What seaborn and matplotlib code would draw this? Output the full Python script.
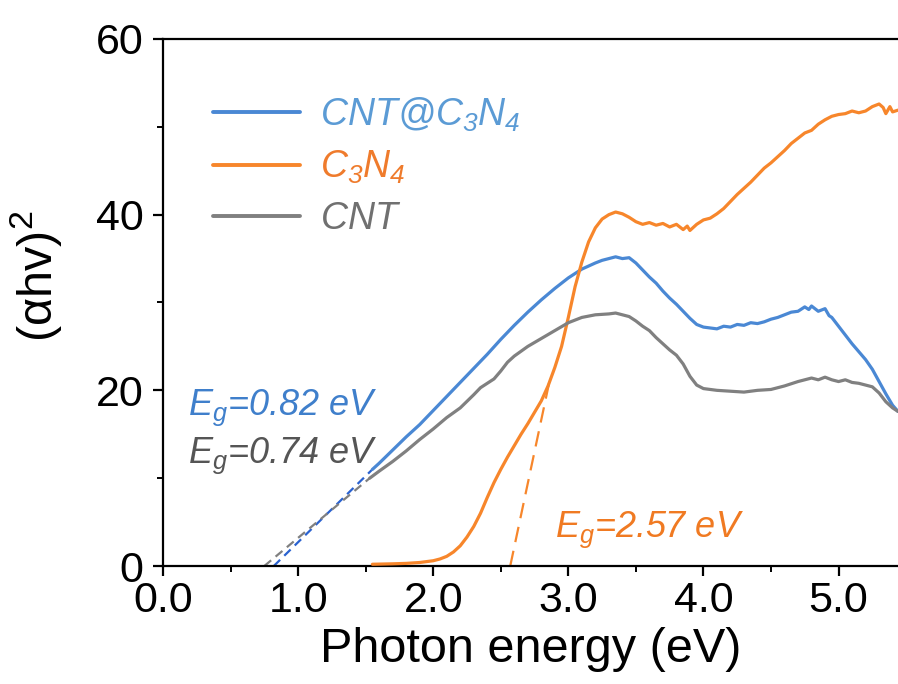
import numpy as np
import pandas as pd
import matplotlib
matplotlib.use("Agg")
import matplotlib.pyplot as plt
import seaborn as sns
from matplotlib.ticker import MultipleLocator

# ---------------- data ----------------
cnt_c3n4_x = [1.55, 1.6, 1.7, 1.8, 1.9, 2.0, 2.1, 2.2, 2.3, 2.4, 2.5, 2.6, 2.7, 2.8, 2.9,
              3.0, 3.1, 3.2, 3.25, 3.3, 3.35, 3.4, 3.45, 3.5, 3.55, 3.6, 3.65, 3.7, 3.75,
              3.8, 3.85, 3.9, 3.95, 4.0, 4.05, 4.1, 4.15, 4.2, 4.25, 4.3, 4.35, 4.4, 4.45,
              4.5, 4.55, 4.6, 4.65, 4.7, 4.75, 4.78, 4.8, 4.85, 4.9, 4.93, 4.95, 5.0, 5.05,
              5.1, 5.15, 5.2, 5.25, 5.3, 5.35, 5.4, 5.44]
cnt_c3n4_y = [11.0, 11.7, 13.2, 14.7, 16.1, 17.7, 19.3, 20.9, 22.5, 24.1, 25.8, 27.4, 28.9, 30.3, 31.6,
              32.8, 33.8, 34.5, 34.8, 35.0, 35.2, 35.0, 35.1, 34.5, 33.7, 32.9, 32.2, 31.3, 30.5,
              29.8, 29.0, 28.2, 27.5, 27.2, 27.1, 27.0, 27.3, 27.2, 27.5, 27.4, 27.7, 27.6, 27.8,
              28.1, 28.3, 28.6, 28.9, 29.0, 29.5, 29.2, 29.6, 29.0, 29.3, 28.5, 28.3, 27.3, 26.3,
              25.3, 24.4, 23.5, 22.4, 21.0, 19.6, 18.3, 17.6]

c3n4_x = [1.55, 1.7, 1.8, 1.9, 2.0, 2.05, 2.1, 2.15, 2.2, 2.25, 2.3, 2.35, 2.4, 2.45, 2.5,
          2.55, 2.6, 2.65, 2.7, 2.75, 2.8, 2.85, 2.9, 2.95, 3.0, 3.05, 3.1, 3.15, 3.2, 3.25,
          3.3, 3.35, 3.4, 3.45, 3.5, 3.55, 3.6, 3.65, 3.7, 3.75, 3.8, 3.85, 3.88, 3.9, 3.95,
          4.0, 4.05, 4.1, 4.15, 4.2, 4.25, 4.3, 4.35, 4.4, 4.45, 4.5, 4.55, 4.6, 4.65, 4.7,
          4.75, 4.8, 4.85, 4.9, 4.95, 5.0, 5.05, 5.1, 5.15, 5.2, 5.25, 5.3, 5.33, 5.35, 5.38,
          5.4, 5.44]
c3n4_y = [0.2, 0.25, 0.3, 0.4, 0.6, 0.8, 1.1, 1.6, 2.3, 3.3, 4.5, 6.0, 7.8, 9.5, 11.0,
          12.4, 13.7, 15.0, 16.2, 17.5, 18.8, 20.5, 22.6, 25.0, 28.3, 31.8, 34.6, 36.9, 38.5, 39.5,
          40.0, 40.3, 40.1, 39.7, 39.2, 38.9, 39.1, 38.8, 39.0, 38.6, 38.9, 38.3, 38.7, 38.2, 38.9,
          39.4, 39.6, 40.1, 40.7, 41.5, 42.3, 43.0, 43.7, 44.5, 45.3, 45.9, 46.6, 47.3, 48.1, 48.7,
          49.3, 49.6, 50.3, 50.8, 51.2, 51.4, 51.5, 51.8, 51.6, 51.8, 52.3, 52.6, 52.2, 51.5, 52.3,
          51.7, 51.9]

cnt_x = [1.53, 1.6, 1.7, 1.8, 1.9, 2.0, 2.1, 2.2, 2.3, 2.35, 2.4, 2.45, 2.5, 2.55, 2.6,
         2.7, 2.8, 2.9, 3.0, 3.1, 3.2, 3.3, 3.35, 3.4, 3.45, 3.5, 3.55, 3.6, 3.65, 3.7,
         3.75, 3.8, 3.85, 3.9, 3.95, 4.0, 4.05, 4.1, 4.2, 4.3, 4.4, 4.5, 4.6, 4.7, 4.75,
         4.8, 4.85, 4.9, 4.95, 5.0, 5.05, 5.1, 5.15, 5.2, 5.25, 5.3, 5.35, 5.4, 5.44]
cnt_y = [10.0, 10.8, 11.9, 13.1, 14.4, 15.6, 16.9, 18.0, 19.5, 20.3, 20.8, 21.3, 22.2, 23.2, 23.9,
         25.0, 25.9, 26.8, 27.7, 28.3, 28.6, 28.7, 28.8, 28.6, 28.4, 27.9, 27.3, 26.8, 26.0, 25.3,
         24.6, 24.0, 23.0, 21.6, 20.6, 20.2, 20.1, 20.0, 19.9, 19.8, 20.0, 20.1, 20.5, 21.0, 21.2,
         21.4, 21.2, 21.5, 21.2, 21.0, 21.2, 20.9, 20.8, 20.6, 20.4, 19.7, 18.7, 18.0, 17.6]

# linear Tauc fits (x-intercept = band gap)
fit_cnt_c3n4_x = [0.82, 1.55]
fit_cnt_c3n4_y = [0.0, 11.0]
fit_c3n4_x = [2.57, 2.86]
fit_c3n4_y = [0.0, 21.0]
fit_cnt_x = [0.75, 1.53]
fit_cnt_y = [0.0, 10.0]

series_names = ["CNT@C3N4", "C3N4", "CNT"]
legend_labels = [r"$CNT@C_3N_4$", r"$C_3N_4$", r"$CNT$"]
x_ticks = [0, 1, 2, 3, 4, 5]
x_tick_labels = ["0.0", "1.0", "2.0", "3.0", "4.0", "5.0"]
y_ticks = [0, 20, 40, 60]
y_tick_labels = ["0", "20", "40", "60"]
eg_texts = [r"$E_g$=0.82 eV", r"$E_g$=0.74 eV", r"$E_g$=2.57 eV"]

# ---------------- style ----------------
sns.set_theme(style="ticks")
plt.rcParams["font.family"] = ["Liberation Sans", "DejaVu Sans"]
plt.rcParams["mathtext.fontset"] = "custom"
plt.rcParams["mathtext.rm"] = "Liberation Sans:italic"
plt.rcParams["mathtext.it"] = "Liberation Sans:italic"
plt.rcParams["mathtext.bf"] = "Liberation Sans:bold"
plt.rcParams["mathtext.sf"] = "Liberation Sans"

line_colors = ["#4a88d4", "#f7862b", "#808080"]
text_colors = ["#5b9bd5", "#ef7b2c", "#707070"]
fit_colors = ["#2a62d0", "#f7862b", "#808080"]
eg_colors = ["#3f7fcb", "#f07a22", "#555555"]

fig = plt.figure(figsize=(8.98, 6.84), dpi=100)
ax = fig.add_axes([0.1815, 0.1725, 0.8185, 0.7705])

df = pd.concat([
    pd.DataFrame({"energy": cnt_c3n4_x, "value": cnt_c3n4_y, "sample": series_names[0]}),
    pd.DataFrame({"energy": c3n4_x, "value": c3n4_y, "sample": series_names[1]}),
    pd.DataFrame({"energy": cnt_x, "value": cnt_y, "sample": series_names[2]}),
])

# dashed fits first (under the curves)
fits = [(fit_cnt_c3n4_x, fit_cnt_c3n4_y), (fit_c3n4_x, fit_c3n4_y), (fit_cnt_x, fit_cnt_y)]
fit_dash = [(4, 2.6), (7, 4), (4, 2.6)]
for (fx, fy), c, d in zip(fits, fit_colors, fit_dash):
    ax.plot(fx, fy, color=c, lw=1.6, dashes=d, zorder=2)

for name, lab, c in zip(series_names, legend_labels, line_colors):
    sub = df[df["sample"] == name]
    sns.lineplot(data=sub, x="energy", y="value", ax=ax, color=c, linewidth=2.3,
                 estimator=None, sort=False, label=lab, zorder=3)

ax.set_xlim(0, 5.44)
ax.set_ylim(0, 60)
ax.set_xticks(x_ticks)
ax.set_xticklabels(x_tick_labels)
ax.set_yticks(y_ticks)
ax.set_yticklabels(y_tick_labels)
ax.xaxis.set_minor_locator(MultipleLocator(0.5))
ax.yaxis.set_minor_locator(MultipleLocator(10))

for s in ["left", "bottom", "top"]:
    ax.spines[s].set_linewidth(1.6)
    ax.spines[s].set_color("black")
ax.spines["right"].set_visible(False)

ax.tick_params(axis="both", which="major", direction="out", length=7, width=1.6,
               colors="black", labelsize=31)
ax.tick_params(axis="both", which="minor", direction="out", length=4, width=1.4, colors="black")
ax.tick_params(axis="x", which="major", pad=4)
ax.tick_params(axis="y", which="major", pad=7)
ax.tick_params(top=False, right=False, which="both")

ax.set_xlabel("Photon energy (eV)", fontsize=35, labelpad=4, color="black")
ax.set_ylabel(r"(αhv)$^\mathsf{2}$", fontsize=35, color="black")
ax.yaxis.set_label_coords(-0.135, 0.55)

leg = ax.legend(loc="upper left", bbox_to_anchor=(0.068, 0.893), frameon=False,
                fontsize=27, handlelength=2.32, handletextpad=0.53, labelspacing=0.4,
                borderpad=0, borderaxespad=0, labelcolor=text_colors)
for h in leg.get_lines():
    h.set_linewidth(2.8)

# band-gap annotations
ax.text(0.185, 17.2, eg_texts[0], color=eg_colors[0], fontsize=26, style="italic", va="baseline")
ax.text(0.185, 11.7, eg_texts[1], color=eg_colors[2], fontsize=26, style="italic", va="baseline")
ax.text(2.90, 3.3, eg_texts[2], color=eg_colors[1], fontsize=26, style="italic", va="baseline")

fig.savefig("out.png", dpi=100)
